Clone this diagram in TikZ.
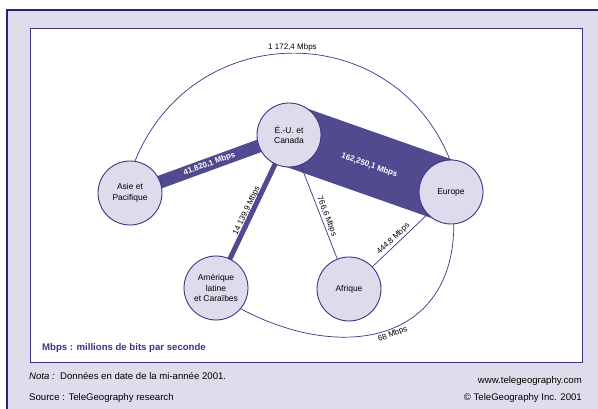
\documentclass[tikz,border=0pt]{standalone}
\usepackage{fontspec}
\setmainfont{Liberation Sans}
\usepackage{xcolor}
\usepackage{tikz}
\usetikzlibrary{backgrounds}

\definecolor{bandcol}{HTML}{514A8E}
\definecolor{linecol}{HTML}{3F3384}
\definecolor{nodefill}{HTML}{DEDCEC}
\definecolor{panelfill}{HTML}{DFDDEC}
\definecolor{framecol}{HTML}{2D2270}
\definecolor{keycol}{HTML}{3D3385}

\begin{document}
\begin{tikzpicture}[x=1pt, y=1pt,
    region/.style={circle, draw=linecol, line width=0.9pt, fill=nodefill,
      minimum size=64pt, inner sep=0pt, align=center,
      font=\fontsize{8.5}{10.5}\selectfont},
    link/.style={draw=linecol, line width=0.7pt},
    band/.style={draw=bandcol, line width=#1},
    rate/.style={font=\fontsize{8}{9}\selectfont, inner sep=1.5pt},
    bandrate/.style={rate, text=white, font=\bfseries\fontsize{8}{9}\selectfont},
    foot/.style={inner sep=0pt, font=\fontsize{9.6}{11}\selectfont}]
%    \draw [help lines, opacity=0.5] (0,0) grid [step=20] (598,-409);
    \useasboundingbox (0,0) rectangle (598,-409);

    %% the regions, radius set with minimum size
    \node (usa) [region] at (289,-135) {É.-U. et\\Canada};
    \node (asi) [region] at (130,-193) {Asie et\\Pacifique};
    \node (eur) [region] at (451,-192) {Europe};
    \node (ame) [region] at (216,-288) {Amérique\\latine\\et Caraïbes};
    \node (afr) [region] at (349,-289) {Afrique};

    %% panel and the thick bands go behind the circles
    \begin{scope}[on background layer]
      \fill [panelfill] (7,-10) rectangle (600,-411);
      \draw [framecol, line width=2pt] (7,-411) -- (7,-10) -- (600,-10);
      \draw [fill=white, draw=linecol, line width=0.8pt] (30,-28) rectangle (582,-362);

      \draw [band=62pt] (usa.center) -- (eur.center);
      \draw [band=13pt] (asi.center) -- (usa.center);
      \draw [band=5pt] (usa.center) -- (ame.center);
    \end{scope}

    \path (usa) -- (eur) node [midway, sloped, bandrate, yshift=-2pt] {162,250,1 Mbps};
    \path (asi) -- (usa) node [midway, sloped, bandrate] {41.820,1 Mbps};
    \path (usa) -- (ame) node [pos=0.52, sloped, above, rate] {14 139,9 Mbps};

    \draw [link] (usa) -- node [pos=0.57, sloped, above, rate] {766,6 Mbps} (afr);
    \draw [link] (afr) -- node [pos=0.45, sloped, above, rate] {444,8 Mbps} (eur);

    %% the two long arcs
    \draw [link] (asi.81) to [out=68, in=112, looseness=1.25]
      node [midway, above, rate] {1 172,4 Mbps} (eur.92);
    \draw [link] (ame.-40) to [out=-28, in=-90, looseness=1.3]
      node [pos=0.52, sloped, below, rate] {68 Mbps} (eur.-85);

    %% key and footer
    \node (key) [anchor=base west, inner sep=0pt, text=keycol,
      font=\bfseries\fontsize{9.6}{11}\selectfont] at (42,-351)
      {Mbps : millions de bits par seconde};
    \node (nota) [anchor=base west, foot] at (29,-379)
      {\textit{Nota :}\ \ Données en date de la mi-année 2001.};
    \node (src) [anchor=base west, foot] at (29,-400) {Source : TeleGeography research};
    \node (web) [anchor=base east, foot] at (582,-383) {www.telegeography.com};
    \node (copy) [anchor=base east, foot] at (582,-400) {© TeleGeography Inc. 2001};

\end{tikzpicture}
\end{document}
